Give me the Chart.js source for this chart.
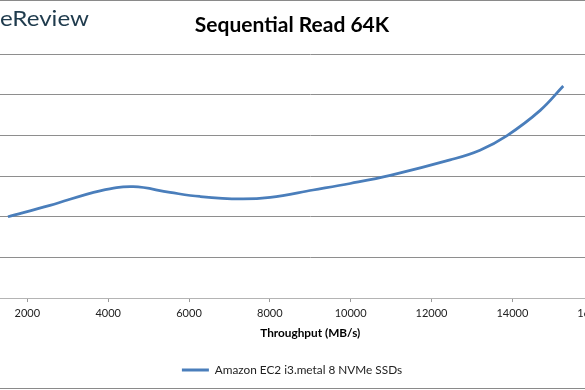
<!DOCTYPE html>
<html>
<head>
<meta charset="utf-8">
<script src="https://cdn.jsdelivr.net/npm/chart.js@4"></script>
<style>
  html, body { margin: 0; padding: 0; width: 585px; height: 390px; overflow: hidden; background: #ffffff; }
  #wrap { position: absolute; left: -100px; top: 0; width: 779px; height: 390px; }
</style>
</head>
<body>
<div id="wrap"><canvas id="c" width="779" height="390"></canvas></div>
<script>
// Data
const chartTitle = "Sequential Read 64K";
const xAxisTitle = "Throughput (MB/s)";
const seriesName = "Amazon EC2 i3.metal 8 NVMe SSDs";
const throughputMBs = [1520, 2560, 3800, 4620, 5530, 6270, 7270, 8010, 9070, 9990, 10980, 12460, 13200, 13870, 14690, 15260];
const latencyMs     = [1.00, 1.14, 1.32, 1.37, 1.30, 1.25, 1.22, 1.24, 1.33, 1.41, 1.51, 1.70, 1.82, 2.00, 2.31, 2.61];
const xTickStep = 2000;
const yTickStep = 0.5;

const points = throughputMBs.map((x, i) => ({ x: x, y: latencyMs[i] }));

const decor = {
  id: 'decor',
  afterDraw(chart) {
    const ctx = chart.ctx;
    ctx.save();
    ctx.fillStyle = '#8a8a8a';
    ctx.fillRect(0, 0, chart.width, 1);
    ctx.fillRect(0, 388, chart.width, 1);
    ctx.fillStyle = '#1f3b4d';
    ctx.font = '21px Lato';
    ctx.textAlign = 'right';
    ctx.textBaseline = 'alphabetic';
    ctx.translate(189, 26);
    ctx.scale(1.15, 1);
    ctx.fillText('StorageReview', 0, 0);
    ctx.restore();
  }
};

new Chart(document.getElementById('c'), {
  type: 'line',
  data: {
    datasets: [{
      label: seriesName,
      data: points,
      borderColor: '#4a7ebb',
      backgroundColor: '#4a7ebb',
      borderWidth: 2.75,
      pointRadius: 0,
      tension: 0.4,
      fill: false
    }]
  },
  options: {
    responsive: false,
    devicePixelRatio: 1,
    animation: false,
    layout: { padding: { left: 5, right: 0, top: 0, bottom: 4.1 } },
    plugins: {
      title: {
        display: true,
        text: chartTitle,
        color: '#000',
        font: { family: 'Lato', size: 21, weight: 'bold' },
        padding: { top: 12.4, bottom: 16.7 }
      },
      legend: {
        position: 'bottom',
        labels: {
          color: '#222',
          font: { family: 'Lato', size: 11.8 },
          boxWidth: 27,
          boxHeight: 3,
          padding: 10,
          generateLabels(chart) {
            return chart.data.datasets.map((ds, i) => ({
              text: ds.label,
              fillStyle: ds.borderColor,
              strokeStyle: ds.borderColor,
              lineWidth: 0,
              hidden: false,
              datasetIndex: i,
              fontColor: '#222'
            }));
          }
        }
      },
      tooltip: { enabled: false }
    },
    scales: {
      x: {
        type: 'linear',
        min: 0,
        max: 18000,
        border: { color: '#b4b4b4', width: 1 },
        grid: { drawOnChartArea: false, drawTicks: true, tickLength: 4, color: '#9a9a9a' },
        ticks: {
          stepSize: xTickStep,
          color: '#222',
          font: { family: 'Lato', size: 11 },
          padding: 5,
          maxRotation: 0,
          autoSkip: false,
          callback: v => (v === 18000 ? '' : String(v))
        },
        title: {
          display: true,
          text: xAxisTitle,
          color: '#000',
          font: { family: 'Lato', size: 11.8, weight: 'bold' },
          padding: { top: 1.2, bottom: 13.5 }
        }
      },
      y: {
        min: 0,
        max: 3,
        afterFit(scale) { scale.width = 41.5; },
        border: { display: false },
        grid: { color: '#8e8e8e', lineWidth: 1, drawTicks: false },
        ticks: {
          stepSize: yTickStep,
          color: '#222',
          font: { family: 'Lato', size: 11 },
          callback: v => v.toFixed(1)
        }
      }
    }
  },
  plugins: [decor]
});
</script>
</body>
</html>
